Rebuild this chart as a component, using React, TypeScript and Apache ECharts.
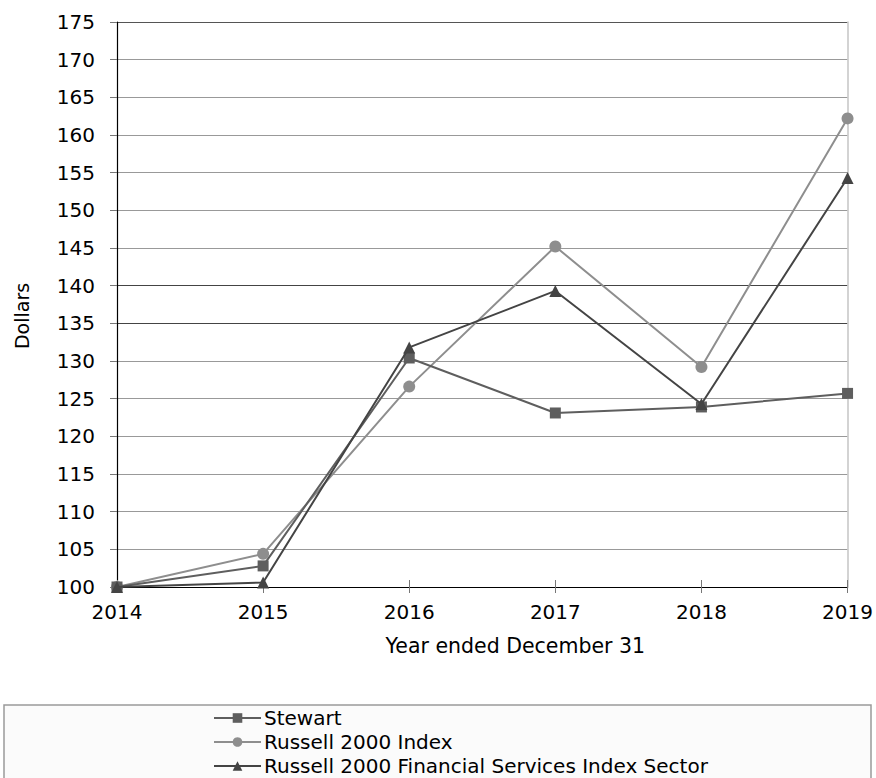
import React, { useEffect, useRef } from "react";
import * as echarts from "echarts";

const years = ["2014", "2015", "2016", "2017", "2018", "2019"];
const stewart = [100, 102.8, 130.4, 123.1, 123.9, 125.7];
const russell2000 = [100, 104.4, 126.6, 145.2, 129.2, 162.2];
const russellFinancial = [100, 100.6, 131.8, 139.3, 124.3, 154.3];
const seriesNames = [
  "Stewart",
  "Russell 2000 Index",
  "Russell 2000 Financial Services Index Sector",
];

const FONT = "'DejaVu Sans', sans-serif";

export default function App() {
  const ref = useRef<HTMLDivElement>(null);

  useEffect(() => {
    if (!ref.current) return;
    const chart = echarts.init(ref.current, null, { renderer: "svg" });
    const gridColors: string[] = [];
    for (let i = 0; i < 16; i++) {
      if (i === 15) gridColors.push("#555555");
      else if (i === 7 || i === 8) gridColors.push("#444444");
      else gridColors.push("#999999");
    }
    chart.setOption({
      animation: false,
      backgroundColor: "#ffffff",
      textStyle: { fontFamily: FONT },
      grid: { left: 117, right: 28, top: 22, bottom: 191, containLabel: false },
      xAxis: [
        {
          type: "category",
          data: years,
          boundaryGap: false,
          position: "bottom",
          axisLine: { show: true, lineStyle: { color: "#000", width: 1.2 } },
          axisTick: { show: true, inside: false, length: 6, lineStyle: { color: "#777" } },
          axisLabel: { color: "#000", fontSize: 20, fontFamily: FONT, margin: 15 },
          splitLine: { show: false },
          name: "Year ended December 31",
          nameLocation: "middle",
          nameGap: 48,
          nameTextStyle: {
            color: "#000",
            fontSize: 20.5,
            fontFamily: FONT,
            padding: [0, 0, 0, 66],
          },
        },
        {
          type: "category",
          data: years,
          boundaryGap: false,
          position: "bottom",
          axisLine: { show: false },
          axisTick: { show: true, inside: true, length: 7, lineStyle: { color: "#777" } },
          axisLabel: { show: false },
          splitLine: { show: false },
        },
      ],
      yAxis: [
        {
          type: "value",
          min: 100,
          max: 175,
          interval: 5,
          axisLine: { show: true, lineStyle: { color: "#000", width: 1.2 } },
          axisTick: { show: true, inside: false, length: 7, lineStyle: { color: "#777" } },
          axisLabel: { color: "#000", fontSize: 20, fontFamily: FONT, margin: 22 },
          splitLine: { show: true, lineStyle: { color: gridColors, width: 1 } },
        },
        {
          type: "value",
          min: 100,
          max: 175,
          interval: 5,
          position: "right",
          axisLine: { show: true, lineStyle: { color: "#c4c4c4", width: 1.5 } },
          axisTick: { show: false },
          axisLabel: { show: false },
          splitLine: { show: false },
        },
      ],
      legend: {
        orient: "vertical",
        left: 213,
        top: 706,
        height: 150,
        padding: 0,
        itemWidth: 47,
        itemHeight: 12,
        itemGap: 0,
        textStyle: {
          color: "#000",
          fontSize: 20,
          lineHeight: 24,
          fontFamily: FONT,
          padding: [0, 0, 0, -2],
        },
        data: seriesNames,
        z: 10,
      },
      graphic: [
        {
          type: "rect",
          z: 1,
          shape: { x: 4, y: 705, width: 867, height: 100 },
          style: { fill: "#fbfbfb", stroke: "#9a9a9a", lineWidth: 1.5 },
        },
        {
          type: "text",
          z: 5,
          x: 22,
          y: 316,
          rotation: Math.PI / 2,
          style: {
            text: "Dollars",
            fill: "#000",
            font: `19px ${FONT}`,
            align: "center",
            verticalAlign: "middle",
          },
        },
      ],
      series: [
        {
          name: seriesNames[0],
          type: "line",
          data: stewart,
          symbol: "rect",
          symbolSize: 11,
          color: "#5e5e5e",
          lineStyle: { color: "#5e5e5e", width: 2 },
          itemStyle: { color: "#5e5e5e" },
          z: 3,
        },
        {
          name: seriesNames[1],
          type: "line",
          data: russell2000,
          symbol: "circle",
          symbolSize: 12,
          color: "#8e8e8e",
          lineStyle: { color: "#8e8e8e", width: 2 },
          itemStyle: { color: "#8e8e8e" },
          z: 2,
        },
        {
          name: seriesNames[2],
          type: "line",
          data: russellFinancial,
          symbol: "triangle",
          symbolSize: 12,
          color: "#444444",
          lineStyle: { color: "#444444", width: 2 },
          itemStyle: { color: "#444444" },
          z: 4,
        },
      ],
    });
    return () => chart.dispose();
  }, []);

  return (
    <div
      ref={ref}
      style={{ position: "fixed", left: 0, top: 0, width: 876, height: 778 }}
    />
  );
}
